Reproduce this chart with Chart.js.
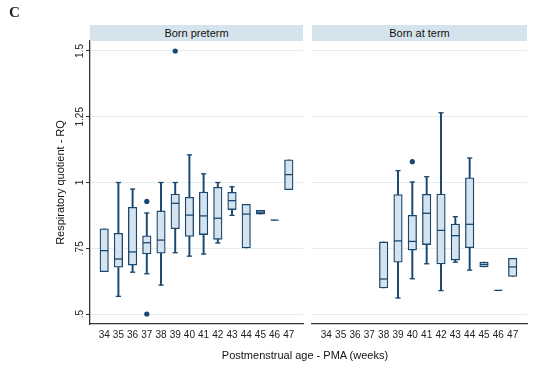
<!DOCTYPE html>
<html>
<head>
<meta charset="utf-8">
<script src="https://cdn.jsdelivr.net/npm/chart.js@4.4.1/dist/chart.umd.min.js"></script>
<style>
  body { margin: 0; background: #fff; }
  #wrap { position: relative; width: 550px; height: 382px; overflow: hidden; font-family: "Liberation Sans", Arial, sans-serif; }
  canvas { position: absolute; left: 0; top: 0; }
  .strip { position: absolute; top: 25px; height: 16px; background: #d5e4ec; color: #111; font-size: 11px; line-height: 16px; text-align: center; }
  #lbl { position: absolute; left: 9px; top: 4px; font-family: "Liberation Serif", serif; font-size: 15px; font-weight: bold; color: #222; }
  #xtitle { position: absolute; left: 150px; top: 349px; width: 310px; text-align: center; font-size: 11px; color: #111; }
</style>
</head>
<body>
<div id="wrap">
  <canvas id="left" width="550" height="382"></canvas>
  <canvas id="right" width="550" height="382"></canvas>
  <div id="lbl">C</div>
  <div class="strip" style="left:90px;width:213px">Born preterm</div>
  <div class="strip" style="left:312px;width:215px">Born at term</div>
  <div id="xtitle">Postmenstrual age - PMA (weeks)</div>
</div>
<script>
// semanas (PMA)
const semanas = [34, 35, 36, 37, 38, 39, 40, 41, 42, 43, 44, 45, 46, 47];
const yTicks = [0.5, 0.75, 1, 1.25, 1.5];

// Born preterm
const preMin = [0.661, 0.567, 0.659, 0.653, 0.610, 0.733, 0.720, 0.728, 0.770, 0.875, 0.751, 0.880, 0.857, 0.973];
const preQ1  = [0.661, 0.678, 0.686, 0.728, 0.731, 0.824, 0.795, 0.802, 0.784, 0.897, 0.751, 0.880, 0.857, 0.973];
const preMed = [0.741, 0.709, 0.736, 0.771, 0.781, 0.921, 0.876, 0.873, 0.864, 0.931, 0.880, 0.887, 0.857, 1.030];
const preQ3  = [0.824, 0.807, 0.906, 0.797, 0.892, 0.956, 0.944, 0.964, 0.982, 0.963, 0.917, 0.894, 0.857, 1.086];
const preMax = [0.824, 1.000, 0.975, 0.884, 1.000, 1.000, 1.105, 1.033, 1.000, 0.984, 0.917, 0.894, 0.857, 1.086];
const preOut = [{ x: 37, y: 0.928 }, { x: 37, y: 0.5 }, { x: 39, y: 1.5 }];

// Born at term
const termMin = [null, null, null, null, 0.599, 0.561, 0.634, 0.691, 0.589, 0.697, 0.667, 0.679, 0.590, 0.643];
const termQ1  = [null, null, null, null, 0.599, 0.697, 0.743, 0.764, 0.690, 0.705, 0.752, 0.679, 0.590, 0.643];
const termMed = [null, null, null, null, 0.633, 0.778, 0.776, 0.883, 0.818, 0.798, 0.841, 0.688, 0.590, 0.679];
const termQ3  = [null, null, null, null, 0.774, 0.954, 0.875, 0.955, 0.956, 0.842, 1.018, 0.697, 0.590, 0.712];
const termMax = [null, null, null, null, 0.774, 1.045, 1.002, 1.022, 1.265, 0.870, 1.093, 0.697, 0.590, 0.712];
const termOut = [{ x: 40, y: 1.079 }];

const azul = '#1a476f';
const preenchimento = '#d5e3ee';
const grade = '#e4edf2';

function montarDatasets(min, q1, med, q3, max, outliers) {
    const whisk = [], caixas = [], medianas = [], caps = [];
    semanas.forEach((s, i) => {
        if (med[i] === null) return;
        whisk.push({ x: s, y: [min[i], max[i]] });
        caixas.push({ x: s, y: [q1[i], q3[i]] });
        medianas.push({ x: s, y: med[i] });
        if (min[i] < q1[i]) caps.push({ x: s, y: min[i] });
        if (max[i] > q3[i]) caps.push({ x: s, y: max[i] });
    });
    return [
        { type: 'bar', data: whisk, backgroundColor: azul, barThickness: 1.3, grouped: false, order: 4 },
        { type: 'bar', data: caixas, backgroundColor: preenchimento, borderColor: azul, borderWidth: 1.3, borderSkipped: false, barThickness: 8.5, grouped: false, order: 3 },
        { type: 'scatter', data: medianas, pointStyle: 'line', radius: 4, borderColor: azul, borderWidth: 1.3, order: 2 },
        { type: 'scatter', data: caps, pointStyle: 'line', radius: 2.6, borderColor: azul, borderWidth: 1.3, order: 1 },
        { type: 'scatter', data: outliers, pointStyle: 'circle', radius: 2.6, backgroundColor: azul, borderColor: azul, borderWidth: 0, order: 0 }
    ];
}

function opcoes(esquerda) {
    return {
        responsive: false,
        animation: false,
        events: [],
        layout: { padding: esquerda ? { left: 50, right: 247, top: 41, bottom: 0 } : { left: 312, right: 23, top: 41, bottom: 0 } },
        plugins: { legend: { display: false }, tooltip: { enabled: false } },
        scales: {
            x: {
                type: 'linear', min: 33, max: 48, offset: false,
                afterBuildTicks: sc => { sc.ticks = semanas.map(v => ({ value: v })); },
                afterFit: sc => { sc.height = 58; },
                grid: { display: false, drawTicks: false },
                border: { display: true, color: '#333', width: 1.3 },
                ticks: { padding: 5, color: '#222', font: { family: 'Liberation Sans', size: 10 }, maxRotation: 0, autoSkip: false }
            },
            y: {
                type: 'linear', min: 0.462, max: 1.538, beginAtZero: false,
                afterBuildTicks: sc => { sc.ticks = yTicks.map(v => ({ value: v })); },
                afterFit: sc => { sc.width = esquerda ? 40 : 0; },
                grid: { color: grade, lineWidth: 1, drawTicks: esquerda, tickLength: 4, tickColor: '#333' },
                border: { display: esquerda, color: '#333', width: 1.3 },
                title: { display: esquerda, text: 'Respiratory quotient - RQ', color: '#111', font: { family: 'Liberation Sans', size: 11 }, padding: { top: 4, bottom: 4 } },
                ticks: {
                    display: esquerda, minRotation: 90, maxRotation: 90, crossAlign: 'center', padding: -4,
                    color: '#222', font: { family: 'Liberation Sans', size: 10 },
                    callback: v => String(v).replace(/^0\./, '.')
                }
            }
        }
    };
}

new Chart(document.getElementById('left').getContext('2d'), {
    type: 'bar',
    data: { datasets: montarDatasets(preMin, preQ1, preMed, preQ3, preMax, preOut) },
    options: opcoes(true)
});

new Chart(document.getElementById('right').getContext('2d'), {
    type: 'bar',
    data: { datasets: montarDatasets(termMin, termQ1, termMed, termQ3, termMax, termOut) },
    options: opcoes(false)
});
</script>
</body>
</html>
